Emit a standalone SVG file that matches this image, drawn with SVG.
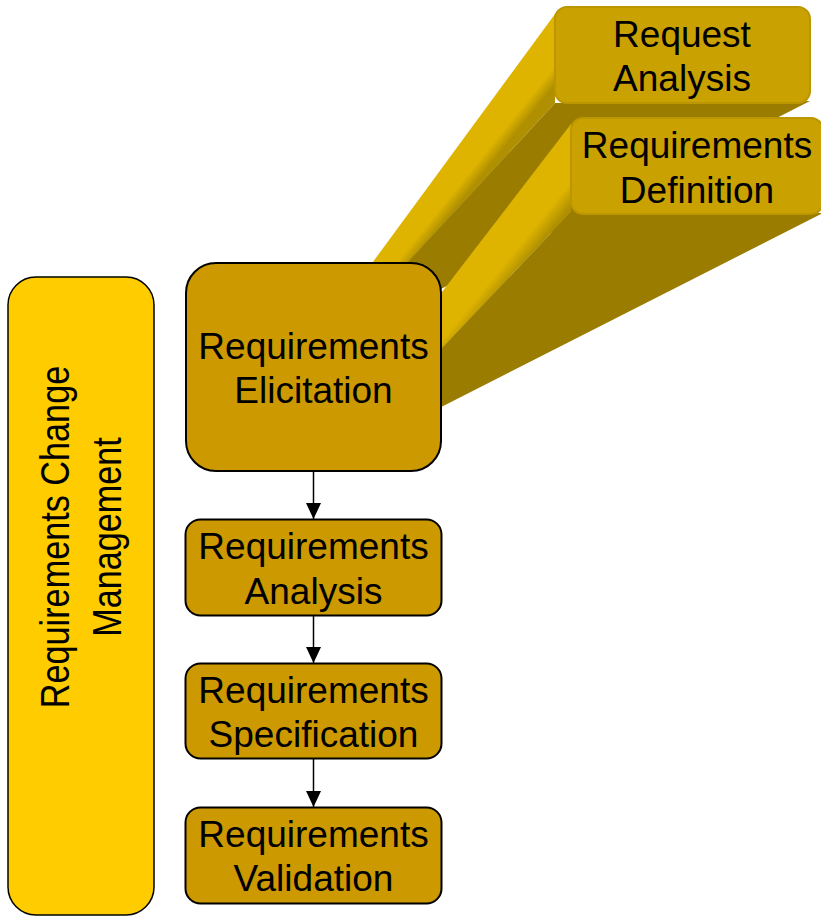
<svg xmlns="http://www.w3.org/2000/svg" width="821" height="918" viewBox="0 0 821 918">
  <defs>
    <style>
      .label { font-family: "Liberation Sans", Arial, sans-serif; font-size: 37px; fill: #000; text-anchor: middle; }
      .step { fill: #CC9900; stroke: #000; stroke-width: 2; }
      .front { fill: #C9A100; stroke: #BC9600; stroke-width: 2; }
      .side-dark { fill: #9A7D00; }
      .conn { stroke: #000; stroke-width: 1.5; fill: none; marker-end: url(#arrow); }
    </style>
    <marker id="arrow" markerUnits="userSpaceOnUse" markerWidth="16" markerHeight="15" refX="16" refY="7.5" orient="auto">
      <path d="M0,0 L16,7.5 L0,15 Z" fill="#000"/>
    </marker>
    <!-- soft shading of the lit side faces toward the shadowed underside -->
    <linearGradient id="sideLitA" gradientUnits="userSpaceOnUse" x1="419" y1="200" x2="445" y2="221">
      <stop offset="0" stop-color="#DEB400"/>
      <stop offset="0.65" stop-color="#DEB400"/>
      <stop offset="1" stop-color="#B09000"/>
    </linearGradient>
    <linearGradient id="sideLitB" gradientUnits="userSpaceOnUse" x1="496" y1="220" x2="534" y2="251">
      <stop offset="0" stop-color="#DEB400"/>
      <stop offset="0.7" stop-color="#DEB400"/>
      <stop offset="1" stop-color="#B09000"/>
    </linearGradient>
  </defs>

  <rect width="821" height="918" fill="#FFFFFF"/>

  <!-- Request Analysis: extruded box receding behind the elicitation step -->
  <g id="request-analysis">
    <polygon points="555,14 555,103 373,300 345,300" fill="url(#sideLitA)"/>
    <polygon class="side-dark" points="555,103 810,101 380,320 354,320"/>
    <rect class="front" x="555" y="7" width="255" height="96" rx="12"/>
    <text class="label" x="682" y="47">Request</text>
    <text class="label" x="682" y="91">Analysis</text>
  </g>

  <!-- Requirements Definition: second extruded box -->
  <g id="requirements-definition">
    <polygon points="571,124 571,212 393,400 359,400" fill="url(#sideLitB)"/>
    <polygon class="side-dark" points="571,212 823,213 400,428 366,428"/>
    <rect class="front" x="571" y="118" width="252" height="96" rx="12"/>
    <text class="label" x="697" y="158">Requirements</text>
    <text class="label" x="697" y="203">Definition</text>
  </g>

  <!-- Change management bar spanning the whole process -->
  <g id="change-management">
    <rect x="8" y="277" width="146" height="638" rx="28" fill="#FFCC00" stroke="#000" stroke-width="1.5"/>
    <g transform="translate(81,537) rotate(-90) scale(0.835,1)">
      <text class="label" style="font-size:41px" x="0" y="-12">Requirements Change</text>
      <text class="label" style="font-size:41px" x="0" y="40">Management</text>
    </g>
  </g>

  <g id="requirements-elicitation">
    <rect class="step" x="186" y="263" width="255" height="208" rx="30"/>
    <text class="label" x="313.5" y="359">Requirements</text>
    <text class="label" x="313.5" y="403">Elicitation</text>
  </g>

  <g id="requirements-analysis">
    <rect class="step" x="185.5" y="519.5" width="256" height="96" rx="15"/>
    <text class="label" x="313.5" y="559">Requirements</text>
    <text class="label" x="313.5" y="604">Analysis</text>
  </g>

  <g id="requirements-specification">
    <rect class="step" x="185.5" y="663.5" width="256" height="95" rx="15"/>
    <text class="label" x="313.5" y="703">Requirements</text>
    <text class="label" x="313.5" y="747">Specification</text>
  </g>

  <g id="requirements-validation">
    <rect class="step" x="185.5" y="807.5" width="256" height="96" rx="15"/>
    <text class="label" x="313.5" y="847">Requirements</text>
    <text class="label" x="313.5" y="891">Validation</text>
  </g>

  <g id="connectors">
    <line class="conn" x1="313.5" y1="471" x2="313.5" y2="519"/>
    <line class="conn" x1="313.5" y1="616" x2="313.5" y2="663"/>
    <line class="conn" x1="313.5" y1="759" x2="313.5" y2="807"/>
  </g>
</svg>
